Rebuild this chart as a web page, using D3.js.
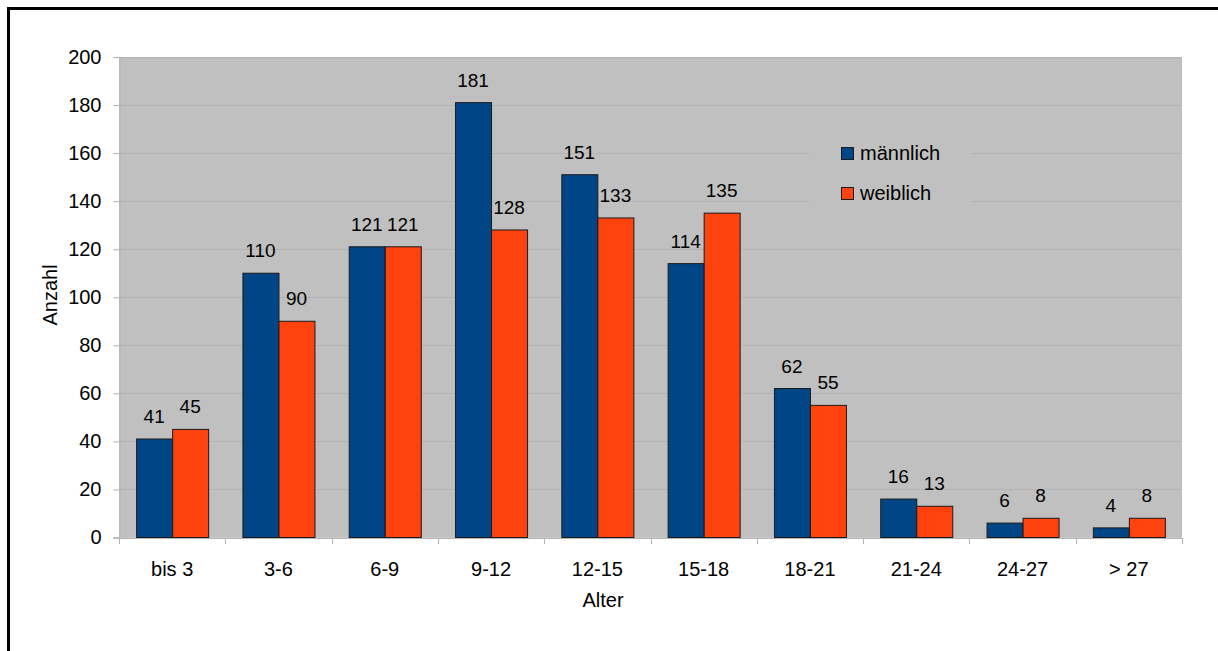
<!DOCTYPE html>
<html>
<head>
<meta charset="utf-8">
<script src="https://cdn.jsdelivr.net/npm/d3@7"></script>
<style>
  html, body { margin: 0; padding: 0; background: #fff; }
  svg { display: block; font-family: "Liberation Sans", Arial, sans-serif; }
</style>
</head>
<body>
<svg id="chart" width="1218" height="651"></svg>
<script>
// Age groups and counts per sex
const categories = ["bis 3", "3-6", "6-9", "9-12", "12-15", "15-18", "18-21", "21-24", "24-27", "> 27"];
const maleValues = [41, 110, 121, 181, 151, 114, 62, 16, 6, 4];
const femaleValues = [45, 90, 121, 128, 133, 135, 55, 13, 8, 8];
const seriesNames = ["männlich", "weiblich"];
const yTicks = [0, 20, 40, 60, 80, 100, 120, 140, 160, 180, 200];

const colors = { "männlich": "#004586", "weiblich": "#ff420e" };
const plotBg = "#c0c0c0";
const gridColor = "#b3b3b3";
const fontSize = 20;

const svg = d3.select("#chart");

// outer frame (runs past the right and bottom edges)
svg.append("rect")
  .attr("x", 8.5).attr("y", 8.5).attr("width", 1400).attr("height", 1000)
  .attr("fill", "none").attr("stroke", "#000").attr("stroke-width", 3);

const plot = { left: 119, right: 1182, top: 57, bottom: 537.5 };

const x = d3.scaleBand().domain(categories).range([plot.left, plot.right]).paddingInner(0).paddingOuter(0);
const xSeries = d3.scaleBand().domain(seriesNames).range([0, x.bandwidth()]).paddingInner(0).paddingOuter(0.476);
const y = d3.scaleLinear().domain([0, 200]).range([plot.bottom, plot.top]);

// plot background
svg.append("rect")
  .attr("x", plot.left).attr("y", plot.top)
  .attr("width", plot.right - plot.left).attr("height", plot.bottom - plot.top)
  .attr("fill", plotBg);

// horizontal grid lines
svg.append("g").selectAll("line").data(yTicks).join("line")
  .attr("x1", plot.left).attr("x2", plot.right)
  .attr("y1", d => Math.round(y(d)) + 0.5).attr("y2", d => Math.round(y(d)) + 0.5)
  .attr("stroke", gridColor).attr("stroke-width", 1);

// legend panel sits on top of the grid
const legendBox = { x: 809, y: 128, w: 163, h: 94 };
svg.append("rect")
  .attr("x", legendBox.x).attr("y", legendBox.y).attr("width", legendBox.w).attr("height", legendBox.h)
  .attr("fill", plotBg);

// y axis
const yAxis = svg.append("g")
  .attr("transform", `translate(${plot.left + 0.5},0)`)
  .call(d3.axisLeft(y).tickValues(yTicks).tickSize(6).tickPadding(12));
yAxis.select(".domain").attr("stroke", gridColor);
yAxis.selectAll(".tick line").attr("stroke", gridColor);
yAxis.selectAll("text").attr("font-size", fontSize).attr("fill", "#000")
  .attr("font-family", "Liberation Sans, Arial, sans-serif");

// x axis with ticks on category boundaries
const xAxisG = svg.append("g").attr("transform", `translate(0,${plot.bottom + 0.5})`);
xAxisG.append("line").attr("x1", plot.left - 6).attr("x2", plot.right)
  .attr("stroke", gridColor);
const bounds = categories.map(c => x(c)).concat([x(categories[categories.length - 1]) + x.bandwidth()]);
xAxisG.selectAll("line.tk").data(bounds).join("line").attr("class", "tk")
  .attr("x1", d => Math.round(d) + 0.5).attr("x2", d => Math.round(d) + 0.5)
  .attr("y1", 0).attr("y2", 6).attr("stroke", gridColor);
xAxisG.selectAll("text").data(categories).join("text")
  .attr("x", d => x(d) + x.bandwidth() / 2).attr("y", 38)
  .attr("text-anchor", "middle").attr("font-size", fontSize).attr("fill", "#000")
  .text(d => d);

// bars
const rows = categories.map((c, i) => ({ cat: c, values: [
  { key: "männlich", value: maleValues[i] },
  { key: "weiblich", value: femaleValues[i] }
]}));

const groups = svg.append("g").selectAll("g").data(rows).join("g")
  .attr("transform", d => `translate(${x(d.cat)},0)`);

groups.selectAll("rect").data(d => d.values).join("rect")
  .attr("x", d => xSeries(d.key) + 0.5)
  .attr("y", d => y(d.value))
  .attr("width", xSeries.bandwidth())
  .attr("height", d => y(0) - y(d.value))
  .attr("fill", d => colors[d.key])
  .attr("stroke", "#1a1a1a").attr("stroke-width", 1);

groups.selectAll("text").data(d => d.values).join("text")
  .attr("x", d => xSeries(d.key) + xSeries.bandwidth() / 2)
  .attr("y", d => y(d.value) - 16)
  .attr("text-anchor", "middle").attr("font-size", fontSize - 1).attr("fill", "#000")
  .text(d => d.value);

// legend entries
const legend = svg.append("g").selectAll("g").data(seriesNames).join("g")
  .attr("transform", (d, i) => `translate(841,${147 + i * 40})`);
legend.append("rect")
  .attr("x", 0.5).attr("y", 0.5).attr("width", 12).attr("height", 12)
  .attr("fill", d => colors[d]).attr("stroke", "#1a1a1a");
legend.append("text")
  .attr("x", 19).attr("y", 12.5).attr("font-size", fontSize).attr("fill", "#000")
  .text(d => d);

// axis titles
svg.append("text")
  .attr("x", 603).attr("y", 607).attr("text-anchor", "middle")
  .attr("font-size", fontSize).attr("fill", "#000").text("Alter");
svg.append("text")
  .attr("transform", "translate(57,295) rotate(-90)")
  .attr("text-anchor", "middle").attr("font-size", fontSize).attr("fill", "#000").text("Anzahl");
</script>
</body>
</html>
